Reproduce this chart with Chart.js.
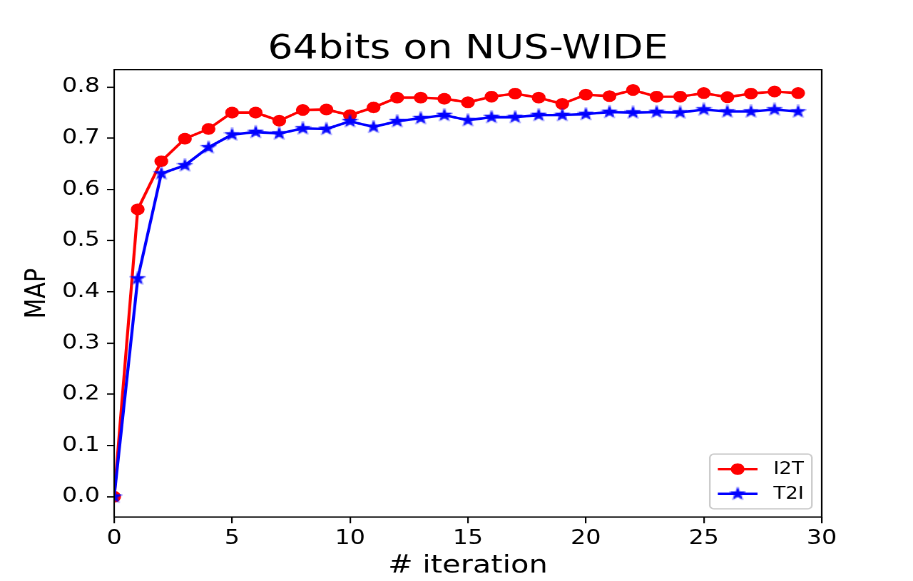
<!DOCTYPE html>
<html lang="en">
<head>
    <meta charset="UTF-8">
    <title>64bits on NUS-WIDE</title>
    <script src="https://cdn.jsdelivr.net/npm/chart.js"></script>
    <style>
        body {
            margin: 0;
            background: #fff;
            overflow: hidden;
        }
        #mapChart {
            display: block;
        }
    </style>
</head>
<body>
    <!-- the figure is drawn at 640x480 and stretched to the window, like the source image -->
    <canvas id="mapChart" width="640" height="480" style="width: 913px; height: 581px;"></canvas>

    <script>
        const iterations = [0, 1, 2, 3, 4, 5, 6, 7, 8, 9, 10, 11, 12, 13, 14,
                            15, 16, 17, 18, 19, 20, 21, 22, 23, 24, 25, 26, 27, 28, 29];
        const i2tMap = [0.000, 0.561, 0.655, 0.699, 0.718, 0.750, 0.750, 0.734, 0.755, 0.756,
                        0.745, 0.760, 0.779, 0.779, 0.777, 0.770, 0.781, 0.787, 0.779, 0.767,
                        0.785, 0.782, 0.794, 0.781, 0.781, 0.788, 0.780, 0.787, 0.791, 0.788];
        const t2iMap = [0.000, 0.426, 0.631, 0.647, 0.682, 0.707, 0.712, 0.709, 0.719, 0.718,
                        0.733, 0.722, 0.733, 0.739, 0.745, 0.735, 0.741, 0.741, 0.745, 0.745,
                        0.747, 0.751, 0.750, 0.751, 0.750, 0.756, 0.752, 0.752, 0.756, 0.752];
        const xTicks = [0, 5, 10, 15, 20, 25, 30];
        const xTickLabels = ['0', '5', '10', '15', '20', '25', '30'];
        const yTicks = [0, 0.1, 0.2, 0.3, 0.4, 0.5, 0.6, 0.7, 0.8];
        const yTickLabels = ['0.0', '0.1', '0.2', '0.3', '0.4', '0.5', '0.6', '0.7', '0.8'];

        const FONT = "'DejaVu Sans', sans-serif";
        Chart.defaults.color = '#000';
        Chart.defaults.font.family = FONT;

        // filled five pointed star, like the matplotlib '*' marker
        function makeStar(color) {
            const c = document.createElement('canvas');
            c.width = 12;
            c.height = 12;
            const g = c.getContext('2d');
            const outer = 4.3, inner = outer * 0.382;
            g.beginPath();
            for (let i = 0; i < 10; i++) {
                const r = i % 2 === 0 ? outer : inner;
                const a = -Math.PI / 2 + i * Math.PI / 5;
                const px = 6 + r * Math.cos(a), py = 6 + r * Math.sin(a);
                if (i === 0) g.moveTo(px, py); else g.lineTo(px, py);
            }
            g.closePath();
            g.fillStyle = color;
            g.fill();
            g.lineWidth = 1.2;
            g.lineJoin = 'miter';
            g.strokeStyle = color;
            g.stroke();
            return c;
        }
        const star = makeStar('#0000ff');

        // axes frame and the matplotlib style legend in the lower right
        const framePlugin = {
            id: 'frame',
            afterDraw(chart) {
                const ctx = chart.ctx;
                const a = chart.chartArea;
                ctx.save();
                ctx.lineWidth = 1.1;
                ctx.strokeStyle = '#000';
                ctx.strokeRect(a.left, a.top, a.right - a.left, a.bottom - a.top);

                const fs = 13.9;
                ctx.font = fs + 'px ' + FONT;
                const sets = chart.data.datasets;
                const textW = Math.max(...sets.map(d => ctx.measureText(d.label).width));
                const pad = 5.6, handle = 27.8, gap = 11.1, rowH = 13.5, spacing = 6.9;
                const w = pad * 2 + handle + gap + textW;
                const h = pad * 2 + rowH * sets.length + spacing * (sets.length - 1);
                const right = a.right - 6.9, bottom = a.bottom - 6.9;
                const left = right - w, top = bottom - h;
                const r = 2.8;

                ctx.beginPath();
                ctx.moveTo(left + r, top);
                ctx.arcTo(right, top, right, bottom, r);
                ctx.arcTo(right, bottom, left, bottom, r);
                ctx.arcTo(left, bottom, left, top, r);
                ctx.arcTo(left, top, right, top, r);
                ctx.closePath();
                ctx.fillStyle = 'rgba(255,255,255,0.8)';
                ctx.fill();
                ctx.lineWidth = 1.2;
                ctx.strokeStyle = '#cccccc';
                ctx.stroke();

                sets.forEach((d, i) => {
                    const cy = top + pad + rowH / 2 + i * (rowH + spacing);
                    const x0 = left + pad, x1 = x0 + handle, cx = (x0 + x1) / 2;
                    ctx.beginPath();
                    ctx.moveTo(x0, cy);
                    ctx.lineTo(x1, cy);
                    ctx.lineWidth = d.borderWidth;
                    ctx.strokeStyle = d.borderColor;
                    ctx.stroke();
                    if (d.pointStyle === 'circle') {
                        ctx.beginPath();
                        ctx.arc(cx, cy, d.pointRadius, 0, Math.PI * 2);
                        ctx.fillStyle = d.pointBackgroundColor;
                        ctx.fill();
                        ctx.lineWidth = d.pointBorderWidth;
                        ctx.strokeStyle = d.pointBorderColor;
                        ctx.stroke();
                    } else {
                        ctx.drawImage(d.pointStyle, cx - d.pointStyle.width / 2, cy - d.pointStyle.height / 2);
                    }
                    ctx.fillStyle = '#000';
                    ctx.textAlign = 'left';
                    ctx.textBaseline = 'middle';
                    ctx.fillText(d.label, x1 + gap, cy + 0.5);
                });
                ctx.restore();
            }
        };

        const tickGrid = {
            drawOnChartArea: false,
            drawTicks: true,
            tickLength: 5,
            color: '#000',
            lineWidth: 1.1
        };

        new Chart(document.getElementById('mapChart'), {
            type: 'line',
            data: {
                datasets: [{
                    label: 'I2T',
                    data: iterations.map((x, i) => ({ x: x, y: i2tMap[i] })),
                    borderColor: '#ff0000',
                    backgroundColor: '#ff0000',
                    borderWidth: 2.1,
                    pointStyle: 'circle',
                    pointRadius: 4.2,
                    pointBorderWidth: 1.3,
                    pointBackgroundColor: '#ff0000',
                    pointBorderColor: '#ff0000',
                    tension: 0,
                    clip: 0,
                    order: 1
                }, {
                    label: 'T2I',
                    data: iterations.map((x, i) => ({ x: x, y: t2iMap[i] })),
                    borderColor: '#0000ff',
                    backgroundColor: '#0000ff',
                    borderWidth: 2.1,
                    pointStyle: star,
                    pointRadius: 5,
                    tension: 0,
                    clip: 0,
                    order: 0
                }]
            },
            options: {
                responsive: false,
                animation: false,
                devicePixelRatio: 2,
                // title is centred over the plot box, as matplotlib does
                layout: {
                    padding: { left: 16, right: 0, top: 0, bottom: 0 }
                },
                plugins: {
                    legend: { display: false },
                    tooltip: { enabled: false },
                    title: {
                        display: true,
                        text: '64bits on NUS-WIDE',
                        font: { size: 27.8, weight: 'normal', family: FONT },
                        color: '#000',
                        padding: { top: 24, bottom: 0.2 }
                    }
                },
                scales: {
                    x: {
                        type: 'linear',
                        min: 0,
                        max: 30,
                        grid: tickGrid,
                        border: { display: false },
                        afterBuildTicks: scale => { scale.ticks = xTicks.map(v => ({ value: v })); },
                        afterFit: scale => { scale.height = 52.8; },
                        ticks: {
                            autoSkip: false,
                            maxRotation: 0,
                            padding: 3,
                            font: { size: 16.7, family: FONT },
                            callback: (v, i) => xTickLabels[i]
                        },
                        title: {
                            display: true,
                            text: '# iteration',
                            font: { size: 20.8, family: FONT },
                            padding: { top: 0, bottom: 0 }
                        }
                    },
                    y: {
                        min: -0.0397,
                        max: 0.8337,
                        grid: tickGrid,
                        border: { display: false },
                        afterBuildTicks: scale => { scale.ticks = yTicks.map(v => ({ value: v })); },
                        afterFit: scale => { scale.width = 64; },
                        ticks: {
                            autoSkip: false,
                            padding: 5,
                            font: { size: 16.7, family: FONT },
                            callback: (v, i) => yTickLabels[i]
                        },
                        title: {
                            display: true,
                            text: 'MAP',
                            font: { size: 19.4, family: FONT, lineHeight: 1.1 },
                            padding: { top: 0, bottom: 0 }
                        }
                    },
                    // empty spacer on the right, keeps the figure margin
                    yRight: {
                        position: 'right',
                        display: true,
                        grid: { display: false },
                        border: { display: false },
                        ticks: { display: false },
                        afterFit: scale => { scale.width = 64; }
                    }
                }
            },
            plugins: [framePlugin]
        });
    </script>
</body>
</html>
